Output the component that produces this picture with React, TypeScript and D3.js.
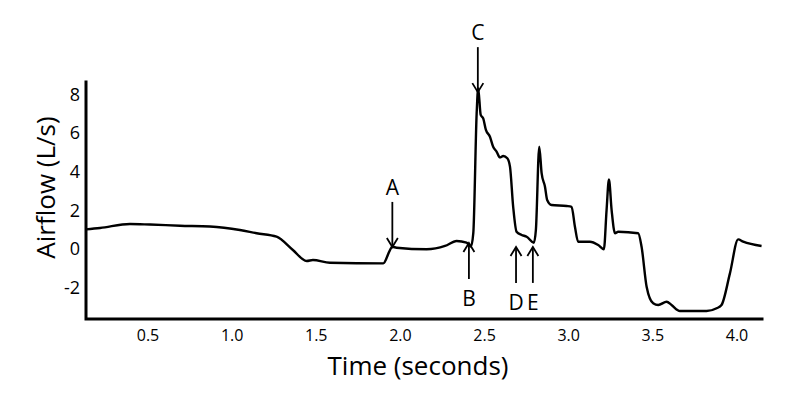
import React from "react";
import * as d3 from "d3";

const timeValues = [
  0.131, 0.215, 0.393, 0.512, 0.69, 0.868, 1.046, 1.146, 1.264, 1.361, 1.443, 1.48, 1.581,
  1.898, 1.938, 1.951, 1.977, 2.156, 2.265, 2.334, 2.393, 2.419, 2.433, 2.453, 2.462, 2.477,
  2.492, 2.508, 2.532, 2.551, 2.572, 2.591, 2.611, 2.635, 2.651, 2.67, 2.69, 2.72, 2.75, 2.793,
  2.805, 2.825, 2.839, 2.859, 2.872, 2.898, 2.988, 3.017, 3.037, 3.056, 3.126, 3.175, 3.209,
  3.225, 3.239, 3.255, 3.275, 3.294, 3.413, 3.433, 3.463, 3.502, 3.532, 3.582, 3.611, 3.661,
  3.76, 3.819, 3.879, 3.908, 3.958, 4.007, 4.037, 4.146,
];
const airflowValues = [
  1.09, 1.16, 1.37, 1.34, 1.28, 1.24, 1.06, 0.89, 0.71, 0.02, -0.55, -0.5, -0.64,
  -0.67, 0.02, 0.19, 0.14, 0.06, 0.23, 0.49, 0.4, 0.2, 0.89, 7.1, 8.4, 7.02,
  6.84, 6.24, 5.89, 5.37, 5.11, 4.82, 4.89, 4.77, 4.34, 2.26, 0.97, 0.8, 0.71, 0.4,
  1.06, 5.37, 4.0, 3.3, 2.61, 2.35, 2.3, 2.26, 1.23, 0.45, 0.45, 0.28, 0.06,
  2.09, 3.68, 2.09, 0.89, 0.97, 0.89, 0.19, -1.88, -2.74, -2.83, -2.66, -2.83, -3.14,
  -3.14, -3.14, -3.0, -2.83, -1.19, 0.57, 0.45, 0.23,
];
const xTicks = [0.5, 1.0, 1.5, 2.0, 2.5, 3.0, 3.5, 4.0];
const yTicks = [-2, 0, 2, 4, 6, 8];
const annotLabels = ["A", "B", "C", "D", "E"];
const annotTimes = [1.952, 2.407, 2.46, 2.687, 2.787];
const annotTips = [0.18, 0.38, 8.2, 0.18, 0.18];
const annotDirs = ["down", "up", "down", "up", "up"];

const W = 800;
const H = 403;
const left = 86;
const right = 762;
const top = 82;
const bottom = 319;
const FONT = "'Open Sans', Lato, sans-serif";

export default function App() {
  const x = d3.scaleLinear().domain([0.1316, 4.1486]).range([left, right]);
  const y = d3.scaleLinear().domain([-3.554, 8.725]).range([bottom, top]);

  const data = timeValues.map((t, i) => [t, airflowValues[i]] as [number, number]);
  const line = d3
    .line<[number, number]>()
    .x((d) => x(d[0]))
    .y((d) => y(d[1]))
    .curve(d3.curveMonotoneX);

  const downLen = 45;
  const upLen = 36;
  const headW = 5.5;
  const headH = 9;

  return (
    <svg
      width={W}
      height={H}
      style={{ position: "absolute", left: 0, top: 0, background: "#fff" }}
    >
      <path d={line(data) || ""} fill="none" stroke="#000" strokeWidth={2.4} strokeLinejoin="round" />

      <path
        d={`M${left},${top} V${bottom} H${right}`}
        fill="none"
        stroke="#000"
        strokeWidth={3}
        strokeLinecap="square"
      />

      {xTicks.map((t) => (
        <text
          key={"x" + t}
          x={x(t)}
          y={337}
          textAnchor="middle"
          dominantBaseline="middle"
          fontFamily={FONT}
          fontSize={16}
          fill="#000"
        >
          {t.toFixed(1)}
        </text>
      ))}
      {yTicks.map((v) => (
        <text
          key={"y" + v}
          x={80}
          y={y(v)}
          textAnchor="end"
          dominantBaseline="middle"
          fontFamily={FONT}
          fontSize={18}
          fill="#000"
        >
          {v}
        </text>
      ))}

      <text x={418} y={375} textAnchor="middle" fontFamily={FONT} fontSize={26} fill="#000">
        Time (seconds)
      </text>
      <text
        transform={`translate(55,187.5) rotate(-90)`}
        textAnchor="middle"
        fontFamily={FONT}
        fontSize={26}
        fill="#000"
      >
        Airflow (L/s)
      </text>

      {annotLabels.map((lab, i) => {
        const ax = x(annotTimes[i]);
        const tip = y(annotTips[i]);
        const down = annotDirs[i] === "down";
        const tail = down ? tip - downLen : tip + upLen;
        const hy = down ? tip - headH : tip + headH;
        const ly = down ? tail - 13 : tail + 21;
        return (
          <g key={lab}>
            <line x1={ax} x2={ax} y1={tail} y2={tip} stroke="#000" strokeWidth={1.8} />
            <path
              d={`M${ax - headW},${hy} L${ax},${tip} L${ax + headW},${hy}`}
              fill="none"
              stroke="#000"
              strokeWidth={1.8}
            />
            <text
              x={ax}
              y={ly}
              textAnchor="middle"
              dominantBaseline="middle"
              fontFamily={FONT}
              fontSize={21}
              fill="#000"
            >
              {lab}
            </text>
          </g>
        );
      })}
    </svg>
  );
}
